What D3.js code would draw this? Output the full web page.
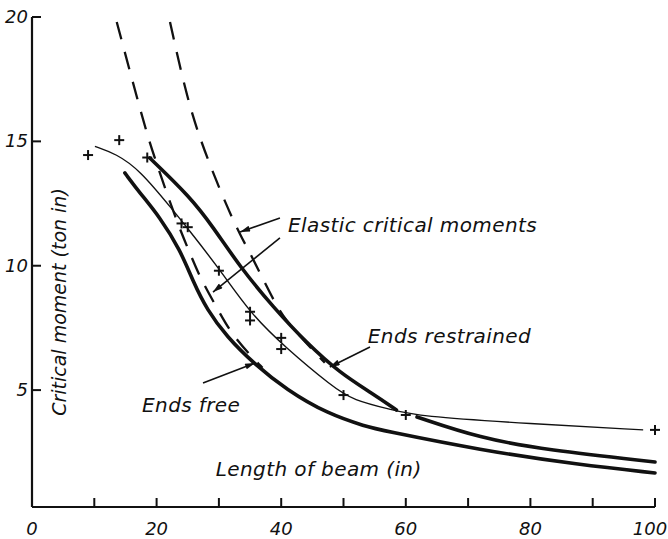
<!DOCTYPE html>
<html>
<head>
<meta charset="utf-8">
<script src="https://cdn.jsdelivr.net/npm/d3@7"></script>
<style>
  body { margin: 0; background: #fff; }
  svg text { font-family: 'DejaVu Sans', sans-serif; font-style: italic; fill: #111; }
</style>
</head>
<body>
<svg id="chart" width="668" height="539"></svg>
<script>
// test points (+)
const testLengths = [9, 14, 18.5, 24, 25, 30, 35, 35, 40, 40, 50, 60, 100];
const testMoments = [14.45, 15.05, 14.35, 11.7, 11.55, 9.8, 8.15, 7.8, 7.1, 6.65, 4.8, 4.0, 3.4];

// thin curve through the tests
const thinCurve = [[10.1, 14.8], [13.5, 14.5], [17.3, 13.85], [22.6, 12.24], [25, 11.5], [30.2, 9.83],
  [35, 8.1], [40.5, 6.75], [48.3, 5.12], [51.5, 4.6], [57.9, 4.2], [61.8, 3.95], [80, 3.65], [98.1, 3.4]];

// thick: ends restrained (null = break at the 60 in test)
const endsRestrained = [[18.9, 14.33], [25.4, 12.76], [29.05, 11.56], [33.4, 9.95], [38.7, 8.34],
  [44.1, 6.89], [49.4, 5.69], [54.7, 4.85], [58.5, 4.2], [60, null], [61.8, 3.92], [71.9, 3.07],
  [82.6, 2.59], [100, 2.11]];

// thick: ends free
const endsFree = [[14.9, 13.73], [17.3, 12.93], [20.5, 11.96], [23.8, 10.63], [25.8, 9.4], [28.1, 8.22],
  [31.3, 7.14], [35.5, 6.09], [40.9, 5.0], [47.4, 4.05], [53.8, 3.52], [55.9, 3.4], [71.9, 2.59],
  [88, 1.99], [100, 1.67]];

// dashed: elastic critical moments
const elasticFree = [[13.6, 19.8], [17.8, 15.86], [19.4, 14.53], [23.3, 11.72], [25.2, 10.6],
  [27, 9.5], [29.7, 8.3], [31.8, 7.34], [35, 6.4], [37, 5.9]];
const elasticRestrained = [[22.15, 19.8], [24.9, 16.7], [27.5, 14.7], [31.3, 12.36], [33.5, 11.2],
  [35, 10.51], [37.7, 9.15], [40.1, 7.98], [43.7, 6.97], [47, 6.1]];

const xTicks = [0, 10, 20, 30, 40, 50, 60, 70, 80, 90, 100];
const xLabels = [0, 20, 40, 60, 80, 100];
const yTicks = [5, 10, 15, 20];

const labels = {
  x: 'Length of beam (in)',
  y: 'Critical moment (ton in)',
  elastic: 'Elastic critical moments',
  restrained: 'Ends restrained',
  free: 'Ends free'
};

const svg = d3.select('#chart');
const x = d3.scaleLinear().domain([0, 100]).range([32, 655]);
const y = d3.scaleLinear().domain([0.3, 20]).range([507, 17]);

const line = d3.line()
  .defined(d => d[1] != null)
  .x(d => x(d[0]))
  .y(d => y(d[1]))
  .curve(d3.curveBasis);

// axes
svg.append('line')
  .attr('x1', x(0)).attr('x2', x(100))
  .attr('y1', y(0.3)).attr('y2', y(0.3))
  .attr('stroke', '#111').attr('stroke-width', 2.2);
svg.append('line')
  .attr('x1', x(0)).attr('x2', x(0))
  .attr('y1', y(0.3)).attr('y2', y(20))
  .attr('stroke', '#111').attr('stroke-width', 2.2);

svg.selectAll('.xtick').data(xTicks).enter().append('line')
  .attr('x1', d => x(d)).attr('x2', d => x(d))
  .attr('y1', y(0.3)).attr('y2', y(0.3) - 9)
  .attr('stroke', '#111').attr('stroke-width', 2);
svg.selectAll('.xlab').data(xLabels).enter().append('text')
  .attr('x', d => Math.min(x(d), 650)).attr('y', 535)
  .attr('text-anchor', 'middle')
  .attr('font-size', 18)
  .text(d => d);

svg.selectAll('.ytick').data(yTicks).enter().append('line')
  .attr('x1', x(0)).attr('x2', x(0) + 9)
  .attr('y1', d => y(d)).attr('y2', d => y(d))
  .attr('stroke', '#111').attr('stroke-width', 2);
svg.selectAll('.ylab').data(yTicks).enter().append('text')
  .attr('x', 28).attr('y', d => y(d) + 6)
  .attr('text-anchor', 'end')
  .attr('font-size', 18)
  .text(d => d);

// curves
[elasticFree, elasticRestrained].forEach(c => {
  svg.append('path').attr('d', line(c))
    .attr('fill', 'none').attr('stroke', '#111').attr('stroke-width', 2.3)
    .attr('stroke-dasharray', '18,13');
});
svg.append('path').attr('d', line(thinCurve))
  .attr('fill', 'none').attr('stroke', '#111').attr('stroke-width', 1.4);
[endsRestrained, endsFree].forEach(c => {
  svg.append('path').attr('d', line(c))
    .attr('fill', 'none').attr('stroke', '#111').attr('stroke-width', 3.6)
    .attr('stroke-linecap', 'round');
});

// crosses
const crosses = svg.selectAll('.pt').data(testLengths).enter().append('g')
  .attr('transform', (d, i) => `translate(${x(d)},${y(testMoments[i])})`);
crosses.append('line').attr('x1', -5).attr('x2', 5).attr('stroke', '#111').attr('stroke-width', 2);
crosses.append('line').attr('y1', -5).attr('y2', 5).attr('stroke', '#111').attr('stroke-width', 2);

// arrows
svg.append('defs').append('marker')
  .attr('id', 'ah').attr('viewBox', '0 0 10 6').attr('refX', 10).attr('refY', 3)
  .attr('markerWidth', 14).attr('markerHeight', 6).attr('markerUnits', 'userSpaceOnUse')
  .attr('orient', 'auto')
  .append('path').attr('d', 'M0,0L10,3L0,6Z').attr('fill', '#111');

function arrow(from, to) {
  svg.append('line')
    .attr('x1', x(from[0])).attr('y1', y(from[1]))
    .attr('x2', x(to[0])).attr('y2', y(to[1]))
    .attr('stroke', '#111').attr('stroke-width', 1.6)
    .attr('marker-end', 'url(#ah)');
}
arrow([39.8, 11.92], [33.4, 11.36]);
arrow([39.8, 11.12], [29.05, 8.94]);
arrow([54.25, 6.73], [47.8, 5.93]);
arrow([27.45, 5.29], [35.8, 6.09]);

// annotation text
const note = (t, px, py) => svg.append('text')
  .attr('x', x(px)).attr('y', y(py))
  .attr('font-size', 20).attr('letter-spacing', 0.4)
  .text(t);
note(labels.elastic, 41.1, 11.36);
note(labels.restrained, 53.9, 6.89);
note(labels.free, 17.66, 4.12);
note(labels.x, 29.5, 1.55);
svg.append('text')
  .attr('transform', 'translate(66,302) rotate(-90)')
  .attr('text-anchor', 'middle')
  .attr('font-size', 19)
  .text(labels.y);
</script>
</body>
</html>
